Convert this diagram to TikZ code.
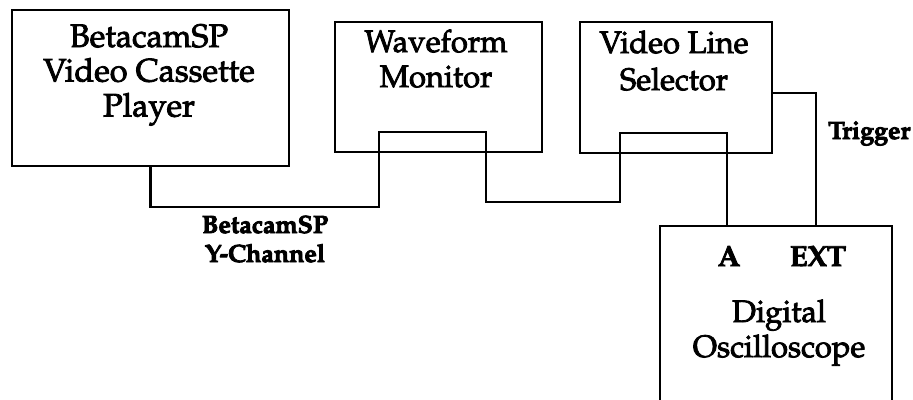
\documentclass[tikz,border=0pt]{standalone}
\usepackage[T1]{fontenc}
\usepackage{mathpazo}
\newcommand\heavytext{\special{pdf:literal direct 2 Tr 0.8 w}}
\begin{document}
\begin{tikzpicture}[x=1pt,y=-1pt,
  box/.style={draw, line width=2.7pt, inner sep=0pt},
  wire/.style={line width=2.7pt},
  big/.style={font=\fontsize{31}{35}\selectfont\heavytext, inner sep=0pt, anchor=base},
  bigger/.style={font=\fontsize{32.5}{35}\selectfont\heavytext, inner sep=0pt, anchor=base},
  lab/.style={font=\fontsize{25}{29}\selectfont\bfseries\heavytext, inner sep=0pt, anchor=base},
  port/.style={font=\fontsize{29}{30}\selectfont\bfseries\heavytext, inner sep=0pt, anchor=base}]
\useasboundingbox[fill=white] (0,0) rectangle (913,399);
% boxes
\node[box, minimum width=277pt, minimum height=156pt] (vcr) at (150.5,88) {};
\node[box, minimum width=207pt, minimum height=130pt] (wfm) at (438.5,87) {};
\node[box, minimum width=192pt, minimum height=131pt] (vls) at (676,87.5) {};
\node[box, minimum width=232pt, minimum height=220pt] (scope) at (776,336) {};
% box texts
\node[bigger] (vcr1) at (149,47) {BetacamSP};
\node[bigger] (vcr2) at (149,81.5) {Video Cassette};
\node[bigger] (vcr3) at (149,116.5) {Player};
\node[big] (wfm1) at (436,52) {Waveform};
\node[big] (wfm2) at (436,87) {Monitor};
\node[big] (vls1) at (674,53) {Video Line};
\node[big] (vls2) at (674,90) {Selector};
\node[port] (pa) at (729,266) {A};
\node[port] (pext) at (818,266) {EXT};
\node[big] (sc1) at (779,322) {Digital};
\node[big] (sc2) at (779,357) {Oscilloscope};
% labels
\node[lab] (ylab1) at (265,233) {BetacamSP};
\node[lab] (ylab2) at (265,262) {Y-Channel};
\node[lab, anchor=base west] (trig) at (828,139) {Trigger};
% bend points
\coordinate (b1) at (379,207);
\coordinate (b2) at (486,132);
\coordinate (b3) at (620,202);
\coordinate (b4) at (727,133);
\coordinate (t1) at (816,93);
% connectors
\draw[wire] (vcr.south) |- (b1) |- (b2) |- (b3) |- (b4) -- (b4 |- scope.north);
\draw[wire] (vls.east |- t1) -| (t1 |- scope.north);
\end{tikzpicture}
\end{document}
